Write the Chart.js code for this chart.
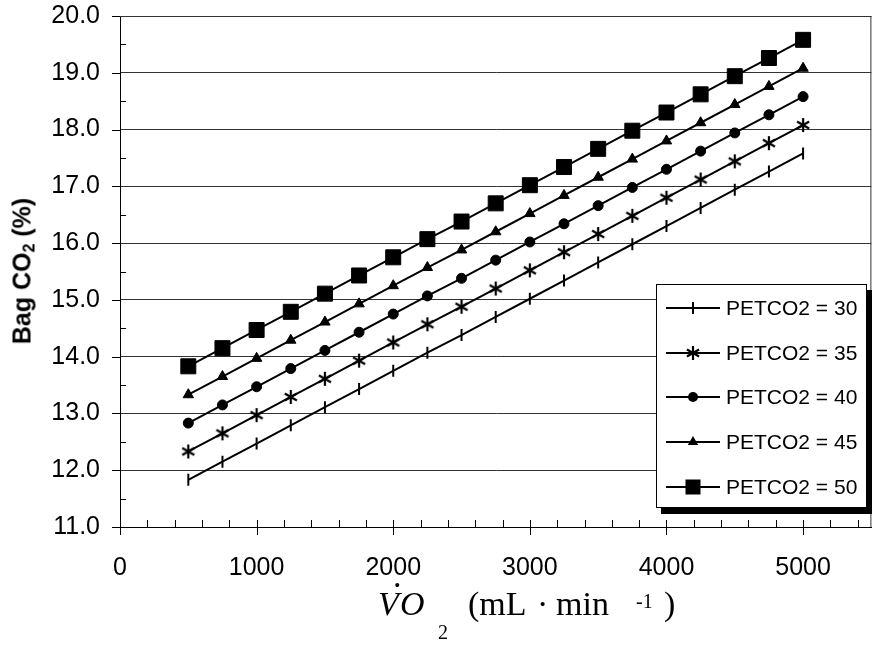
<!DOCTYPE html>
<html>
<head>
<meta charset="utf-8">
<script src="https://cdn.jsdelivr.net/npm/chart.js@4.4.0/dist/chart.umd.min.js"></script>
<style>
html,body{margin:0;padding:0;background:#fff;}
#wrap{position:relative;width:883px;height:652px;overflow:hidden;}
#c{position:absolute;left:0;top:0;}
.t{position:absolute;white-space:nowrap;line-height:1;color:#000;}
#ytitle{left:22px;top:271px;transform:translate(-50%,-50%) rotate(-90deg);font:bold 25px "Liberation Sans",Arial,sans-serif;}
#ytitle .sub{font-size:16px;position:relative;top:4px;}
.s{font-family:"Liberation Serif","Times New Roman",serif;font-size:34px;}
.sm{font-family:"Liberation Serif","Times New Roman",serif;font-size:20px;}
</style>
</head>
<body>
<div id="wrap">
<canvas id="c" width="883" height="652"></canvas>
<div id="ytitle" class="t">Bag CO<span class="sub">2</span> (%)</div>
<div id="xtitle">
  <span class="t s" style="left:378px;top:587px;font-style:italic;">V</span>
  <span class="t s" style="left:393px;top:559px;">.</span>
  <span class="t s" style="left:400px;top:587px;font-style:italic;">O</span>
  <span class="t sm" style="left:438px;top:622px;">2</span>
  <span class="t s" style="left:468px;top:587px;">(mL</span>
  <span class="t s" style="left:537px;top:587px;">·</span>
  <span class="t s" style="left:556px;top:587px;">min</span>
  <span class="t sm" style="left:636px;top:591px;">-1</span>
  <span class="t s" style="left:664px;top:587px;">)</span>
</div>
</div>
<script>
// ---- data ----
const vo2 = [500,750,1000,1250,1500,1750,2000,2250,2500,2750,3000,3250,3500,3750,4000,4250,4500,4750,5000];
const petco2_30 = [11.83,12.15,12.47,12.79,13.11,13.43,13.75,14.07,14.38,14.70,15.02,15.34,15.66,15.98,16.30,16.62,16.94,17.26,17.58];
const petco2_35 = [12.33,12.65,12.97,13.29,13.61,13.93,14.25,14.57,14.88,15.20,15.52,15.84,16.16,16.48,16.80,17.12,17.44,17.76,18.08];
const petco2_40 = [12.83,13.15,13.47,13.79,14.11,14.43,14.75,15.07,15.38,15.70,16.02,16.34,16.66,16.98,17.30,17.62,17.94,18.26,18.58];
const petco2_45 = [13.33,13.65,13.97,14.29,14.61,14.93,15.25,15.57,15.88,16.20,16.52,16.84,17.16,17.48,17.80,18.12,18.44,18.76,19.08];
const petco2_50 = [13.83,14.15,14.47,14.79,15.11,15.43,15.75,16.07,16.38,16.70,17.02,17.34,17.66,17.98,18.30,18.62,18.94,19.26,19.58];
const seriesNames = ['PETCO2 = 30','PETCO2 = 35','PETCO2 = 40','PETCO2 = 45','PETCO2 = 50'];
const xTickValues = [0,1000,2000,3000,4000,5000];
const xTickLabels = ['0','1000','2000','3000','4000','5000'];
const xMinorTickValues = [200,400,600,800,1200,1400,1600,1800,2200,2400,2600,2800,3200,3400,3600,3800,4200,4400,4600,4800,5200,5400];
const yTickValues = [11,12,13,14,15,16,17,18,19,20];
const yTickLabels = ['11.0','12.0','13.0','14.0','15.0','16.0','17.0','18.0','19.0','20.0'];
const yMinorTickValues = [11.5,12.5,13.5,14.5,15.5,16.5,17.5,18.5,19.5];

// ---- marker images ----
function makeAsterisk(size, lw){
  const c = document.createElement('canvas'); c.width = size; c.height = size;
  const g = c.getContext('2d'); g.strokeStyle = '#000'; g.lineWidth = lw;
  const m = size/2, r = size/2 - 1;
  const dx = r*Math.sin(Math.PI/3), dy = r*Math.cos(Math.PI/3);
  g.beginPath();
  g.moveTo(m, m-r); g.lineTo(m, m+r);
  g.moveTo(m-dx, m-dy); g.lineTo(m+dx, m+dy);
  g.moveTo(m-dx, m+dy); g.lineTo(m+dx, m-dy);
  g.stroke();
  return c;
}
const asterisk = makeAsterisk(16, 2.2);

const markerDefs = [
  {pointStyle:'line', pointRadius:6, pointRotation:90, pointBorderWidth:2},
  {pointStyle:asterisk, pointRadius:8, pointRotation:0, pointBorderWidth:1},
  {pointStyle:'circle', pointRadius:5, pointRotation:0, pointBorderWidth:1},
  {pointStyle:'triangle', pointRadius:6, pointRotation:0, pointBorderWidth:1},
  {pointStyle:'rect', pointRadius:10.6, pointRotation:0, pointBorderWidth:1}
];
const seriesValues = [petco2_30, petco2_35, petco2_40, petco2_45, petco2_50];

const datasets = seriesValues.map((vals, i) => Object.assign({
  label: seriesNames[i],
  data: vo2.map((x, j) => ({x: x, y: vals[j]})),
  borderColor: '#000',
  backgroundColor: '#000',
  pointBackgroundColor: '#000',
  pointBorderColor: '#000',
  borderWidth: 2,
  tension: 0,
  fill: false
}, markerDefs[i]));

function drawMarker(ctx, i, x, y){
  ctx.save();
  ctx.fillStyle = '#000'; ctx.strokeStyle = '#000';
  if (i === 0){
    ctx.lineWidth = 2; ctx.beginPath(); ctx.moveTo(x, y-6); ctx.lineTo(x, y+6); ctx.stroke();
  } else if (i === 1){
    ctx.drawImage(asterisk, x-8, y-8);
  } else if (i === 2){
    ctx.beginPath(); ctx.arc(x, y, 5, 0, Math.PI*2); ctx.fill();
  } else if (i === 3){
    const r = 6;
    ctx.beginPath();
    ctx.moveTo(x, y-r);
    ctx.lineTo(x + r*Math.sin(2*Math.PI/3), y - r*Math.cos(2*Math.PI/3));
    ctx.lineTo(x + r*Math.sin(4*Math.PI/3), y - r*Math.cos(4*Math.PI/3));
    ctx.closePath(); ctx.fill();
  } else {
    ctx.fillRect(x-7.5, y-7.5, 15, 15);
  }
  ctx.restore();
}

const decor = {
  id: 'decor',
  afterDraw(chart){
    const ctx = chart.ctx, a = chart.chartArea;
    const xs = chart.scales.x, ys = chart.scales.y;
    ctx.save();
    // frame top & right
    ctx.strokeStyle = '#333'; ctx.lineWidth = 1;
    ctx.beginPath();
    ctx.moveTo(a.left, a.top + 0.5); ctx.lineTo(a.right, a.top + 0.5);
    ctx.moveTo(a.right - 0.5, a.top); ctx.lineTo(a.right - 0.5, a.bottom);
    ctx.stroke();
    // ticks
    ctx.strokeStyle = '#000';
    ctx.beginPath();
    yTickValues.forEach(v => { const y = Math.round(ys.getPixelForValue(v)) + 0.5; ctx.moveTo(a.left - 8, y); ctx.lineTo(a.left, y); });
    yMinorTickValues.forEach(v => { const y = Math.round(ys.getPixelForValue(v)) + 0.5; ctx.moveTo(a.left, y); ctx.lineTo(a.left + 6, y); });
    xTickValues.forEach(v => { const x = Math.round(xs.getPixelForValue(v)) + 0.5; ctx.moveTo(x, a.bottom - 7); ctx.lineTo(x, a.bottom + 8); });
    xMinorTickValues.forEach(v => { const x = Math.round(xs.getPixelForValue(v)) + 0.5; ctx.moveTo(x, a.bottom - 7); ctx.lineTo(x, a.bottom); });
    ctx.stroke();
    // legend
    const L = {x: 656, y: 284, w: 211, h: 224};
    ctx.fillStyle = '#000';
    ctx.fillRect(L.x + 5, L.y + 6, L.w, L.h);
    ctx.fillStyle = '#fff';
    ctx.fillRect(L.x, L.y, L.w, L.h);
    ctx.strokeStyle = '#000'; ctx.lineWidth = 1;
    ctx.strokeRect(L.x + 0.5, L.y + 0.5, L.w - 1, L.h - 1);
    const rows = [308, 353, 397, 442, 487];
    ctx.font = '21px "Liberation Sans", Arial, sans-serif';
    ctx.textBaseline = 'middle'; ctx.textAlign = 'left';
    seriesNames.forEach((name, i) => {
      const y = rows[i];
      ctx.strokeStyle = '#000'; ctx.lineWidth = 2;
      ctx.beginPath(); ctx.moveTo(666, y); ctx.lineTo(720, y); ctx.stroke();
      drawMarker(ctx, i, 693, y);
      ctx.fillStyle = '#000';
      ctx.fillText(name, 726, y + 1);
    });
    ctx.restore();
  }
};

Chart.defaults.font.family = '"Liberation Sans", Arial, sans-serif';
Chart.defaults.color = '#000';

new Chart(document.getElementById('c'), {
  type: 'line',
  data: { datasets: datasets },
  options: {
    responsive: false,
    animation: false,
    events: [],
    layout: { padding: { left: 0, right: 2, top: 16, bottom: 0 } },
    plugins: { legend: { display: false }, tooltip: { enabled: false } },
    scales: {
      x: {
        type: 'linear', min: 0, max: 5500,
        afterBuildTicks: s => { s.ticks = xTickValues.map(v => ({value: v})); },
        afterFit: s => { s.height = 125; s.paddingLeft = 0; s.paddingRight = 0; },
        ticks: { font: { size: 25 }, padding: 26, maxRotation: 0, autoSkip: false,
                 callback: (v, i) => xTickLabels[i] },
        grid: { drawOnChartArea: false, drawTicks: false },
        border: { display: true, color: '#000', width: 1 }
      },
      y: {
        type: 'linear', min: 11, max: 20,
        afterBuildTicks: s => { s.ticks = yTickValues.map(v => ({value: v})); },
        afterFit: s => { s.width = 120; s.paddingTop = 0; s.paddingBottom = 0; },
        ticks: { font: { size: 25 }, padding: 20, callback: (v, i) => yTickLabels[i] },
        grid: { color: '#333', lineWidth: 1, drawTicks: false },
        border: { display: true, color: '#000', width: 1 }
      }
    }
  },
  plugins: [decor]
});
</script>
</body>
</html>
